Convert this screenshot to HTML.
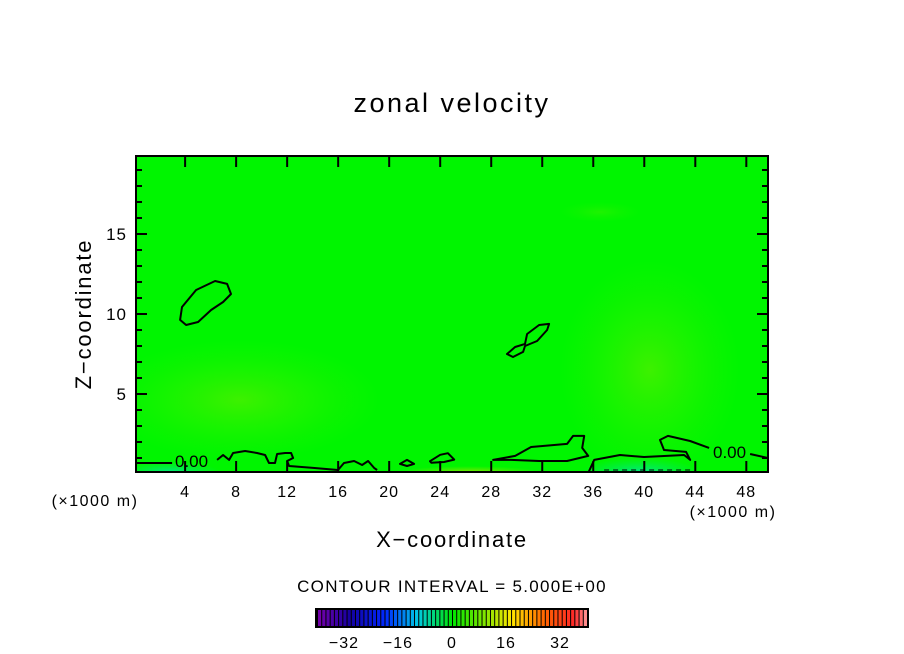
<!DOCTYPE html>
<html><head><meta charset="utf-8"><style>
body{margin:0;background:#fff;}
svg{display:block;font-family:"Liberation Sans",sans-serif;}
</style></head><body>
<svg id="chart" width="904" height="654" viewBox="0 0 904 654">
<defs>
<radialGradient id="g1" cx="0.5" cy="0.5" r="0.5"><stop offset="0" stop-color="#44f000" stop-opacity="0.9"/><stop offset="1" stop-color="#22f400" stop-opacity="0"/></radialGradient>
<radialGradient id="g2" cx="0.5" cy="0.5" r="0.5"><stop offset="0" stop-color="#00e890" stop-opacity="0.9"/><stop offset="1" stop-color="#00e870" stop-opacity="0"/></radialGradient>
<radialGradient id="g3" cx="0.5" cy="0.5" r="0.5"><stop offset="0" stop-color="#a0e000" stop-opacity="0.8"/><stop offset="1" stop-color="#80e800" stop-opacity="0"/></radialGradient>
<clipPath id="pc"><rect x="136" y="156" width="632" height="316"/></clipPath>
</defs>
<text x="452" y="112" text-anchor="middle" font-size="27" letter-spacing="2.5">zonal velocity</text>
<g id="field" clip-path="url(#pc)">
<rect x="136" y="156" width="632" height="316" fill="#00f500"/>
<ellipse cx="240" cy="400" rx="140" ry="60" fill="url(#g1)"/>
<ellipse cx="650" cy="370" rx="90" ry="110" fill="url(#g1)"/>
<ellipse cx="600" cy="212" rx="40" ry="10" fill="url(#g1)" opacity="0.5"/>
<ellipse cx="640" cy="472" rx="60" ry="14" fill="url(#g2)"/>
<ellipse cx="170" cy="472" rx="50" ry="10" fill="url(#g2)"/>
<ellipse cx="470" cy="472" rx="70" ry="6" fill="url(#g3)"/>
</g>
<g id="contours" clip-path="url(#pc)"></g>
<rect x="136" y="156" width="632" height="316" fill="none" stroke="#000" stroke-width="2"/>
<g id="ticks"></g>
<text x="175" y="467" font-size="17">0.00</text>
<text x="713" y="458" font-size="17">0.00</text>
<text x="95" y="506" text-anchor="middle" font-size="16" letter-spacing="1.5">(×1000 m)</text>
<text x="733" y="517" text-anchor="middle" font-size="16" letter-spacing="1.5">(×1000 m)</text>
<text x="452" y="547" text-anchor="middle" font-size="22" letter-spacing="1.8">X−coordinate</text>
<text transform="translate(91,314) rotate(-90)" text-anchor="middle" font-size="22" letter-spacing="1.8">Z−coordinate</text>
<text x="452" y="592" text-anchor="middle" font-size="17" letter-spacing="1.3">CONTOUR INTERVAL = 5.000E+00</text>
<g id="cbar"></g>
</svg>
<script>
const xTicks=[4,8,12,16,20,24,28,32,36,40,44,48];
const yTicks=[5,10,15];
const cbTicks=[-32,-16,0,16,32];
const loopA_x=[3.61,3.76,4.86,6.35,7.29,7.6,6.98,6.04,5.02,4.08];
const loopA_y=[9.63,10.44,11.5,12.06,11.88,11.25,10.75,10.25,9.5,9.31];
const loopB_x=[29.24,29.87,30.65,30.81,31.75,32.54,32.38,31.6,30.65,30.5,29.71];
const loopB_y=[7.5,7.94,8.13,8.75,9.31,9.38,9.0,8.31,8.0,7.63,7.31];
const baseL1_x=[0.16,2.98];
const baseL1_y=[0.69,0.69];
const baseL2_x=[6.51,6.98,7.45,7.76,8.7,9.64,10.27,10.58,11.05,11.21,11.84,12.31,12.47,12.0,12.15,14.03,15.99,16.46,17.25,17.88,18.35,18.82,19.05];
const baseL2_y=[0.88,1.19,0.88,1.31,1.44,1.31,1.19,0.69,0.69,1.25,1.31,1.31,1.0,0.81,0.5,0.38,0.25,0.69,0.81,0.56,0.81,0.38,0.25];
const loopC_x=[20.85,21.4,21.95,21.4];
const loopC_y=[0.63,0.88,0.63,0.5];
const loopD_x=[23.2,24.0,24.6,25.1,24.3,23.3];
const loopD_y=[0.8,1.2,1.3,0.9,0.75,0.7];
const loopE_x=[28.15,29.88,31.13,33.95,34.42,35.29,35.13,35.6,33.95,31.75,29.56];
const loopE_y=[0.88,1.13,1.69,1.88,2.38,2.38,1.63,1.13,0.81,0.81,0.88];
const baseR1_x=[35.6,36.07,38.1,39.98,43.12,43.6,43.28,41.55,41.23,41.86,43.59,45.08];
const baseR1_y=[0.06,0.88,1.19,1.06,1.19,0.88,1.38,1.5,2.13,2.38,2.06,1.63];
const baseR2_x=[48.3,49.7];
const baseR2_y=[1.25,1.0];
const dashR_x=[36.85,43.75];
const dashR_y=[0.25,0.25];
const dashL_x=[0.2,3.0];
const dashL_y=[0.15,0.15];
const cbLevels=[];for(let v=-40;v<40;v+=1.25)cbLevels.push(v);

const X0=0.15,X1=49.7,PX0=136,PX1=768,Y0=0.125,Y1=19.875,PY0=472,PY1=156;
const sx=v=>PX0+(v-X0)/(X1-X0)*(PX1-PX0);
const sy=v=>PY0+(v-Y0)/(Y1-Y0)*(PY1-PY0);
const CB0=-40,CB1=40,CBX0=317,CBX1=587;
const cx=v=>CBX0+(v-CB0)/(CB1-CB0)*(CBX1-CBX0);
const NS='http://www.w3.org/2000/svg';
function mk(t,a,p){const e=document.createElementNS(NS,t);for(const k in a)e.setAttribute(k,a[k]);p.appendChild(e);return e;}
const cg=document.getElementById('contours');
function line(xs,ys,closed,name,dash){
  let d=xs.map((x,i)=>(i?'L':'M')+sx(x).toFixed(1)+','+sy(ys[i]).toFixed(1)).join('')+(closed?'Z':'');
  const p=mk('path',{d:d,fill:'none',stroke:'#000','stroke-width':dash?1:2,'stroke-dasharray':dash?'5,4':'none','stroke-linejoin':'round'},cg);
  
  
}
line(loopA_x,loopA_y,true,'contour-loop-a');
line(loopB_x,loopB_y,true,'contour-loop-b');
line(baseL1_x,baseL1_y,false,'contour-base-left-1');
line(baseL2_x,baseL2_y,false,'contour-base-left-2');
line(loopC_x,loopC_y,true,'contour-loop-c');
line(loopD_x,loopD_y,true,'contour-loop-d');
line(loopE_x,loopE_y,true,'contour-loop-e');
line(baseR1_x,baseR1_y,false,'contour-base-right-1');
line(baseR2_x,baseR2_y,false,'contour-base-right-2');
line(dashR_x,dashR_y,false,'contour-negative-right',true);
line(dashL_x,dashL_y,false,'contour-negative-left',true);

const tg=document.getElementById('ticks');
xTicks.forEach(v=>{
  const x=sx(v);
  mk('line',{x1:x,x2:x,y1:472,y2:461,stroke:'#000','stroke-width':2},tg);
  mk('line',{x1:x,x2:x,y1:156,y2:167,stroke:'#000','stroke-width':2},tg);
  const t=mk('text',{x:x,y:497,'text-anchor':'middle','font-size':16,'letter-spacing':1},tg);
  t.textContent=v;
  
  
});
for(let v=1;v<=19;v++){
  const y=sy(v),len=(v%5===0)?11:6;
  mk('line',{x1:136,x2:136+len,y1:y,y2:y,stroke:'#000','stroke-width':2},tg);
  mk('line',{x1:768,x2:768-len,y1:y,y2:y,stroke:'#000','stroke-width':2},tg);
}
yTicks.forEach(v=>{
  const t=mk('text',{x:127,y:sy(v)+6,'text-anchor':'end','font-size':17,'letter-spacing':1},tg);
  t.textContent=v;
  
  
});
function cmap(v){
  const f=(v-CB0)/(CB1-CB0);
  const stops=[[0,[120,0,170]],[0.12,[20,0,160]],[0.25,[0,40,255]],[0.37,[0,200,230]],[0.5,[0,230,0]],[0.62,[130,230,0]],[0.72,[255,230,0]],[0.84,[255,100,0]],[0.95,[255,40,40]],[1,[255,160,160]]];
  for(let i=1;i<stops.length;i++){if(f<=stops[i][0]){const a=stops[i-1],b=stops[i],t=(f-a[0])/(b[0]-a[0]);return 'rgb('+a[1].map((c,j)=>Math.round(c+(b[1][j]-c)*t)).join(',')+')';}}
  return 'rgb(255,160,160)';
}
const cb=document.getElementById('cbar');
mk('rect',{x:CBX0-2,y:608,width:CBX1-CBX0+4,height:20,fill:'#000'},cb);
cbLevels.forEach(v=>{
  const r=mk('rect',{x:cx(v)+1,y:610,width:cx(v+1.25)-cx(v)-1,height:16,fill:cmap(v+0.6)},cb);
  
  
});
cbTicks.forEach(v=>{
  const t=mk('text',{x:cx(v),y:648,'text-anchor':'middle','font-size':16,'letter-spacing':1},cb);
  t.textContent=(v<0?'−'+(-v):v);
  
  
});
</script>
</body></html>
